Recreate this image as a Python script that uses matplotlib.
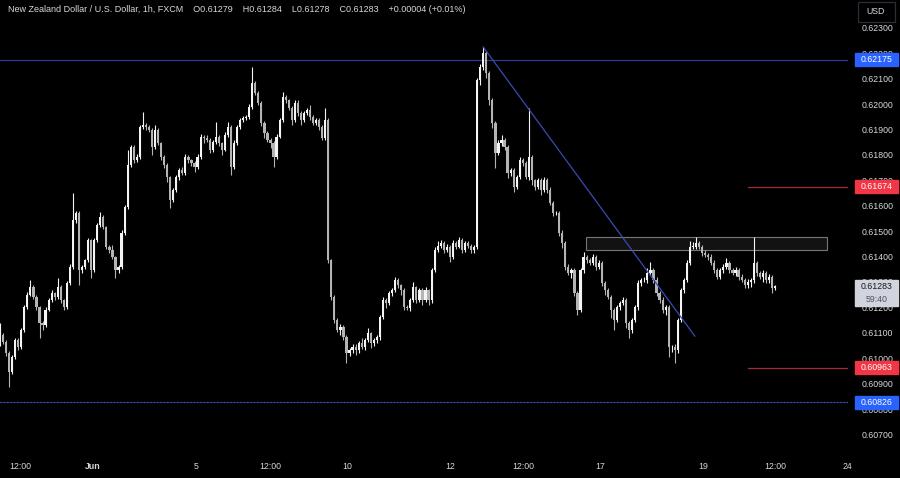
# NZD/USD 1h estilo TradingView (fondo negro, velas blancas/grises)

import matplotlib.pyplot as plt
import matplotlib.patches as patches
import numpy as np

plt.rcParams['font.family'] = ['Liberation Sans', 'DejaVu Sans']

# -----------------------------------------------------------------------------
# Datos: cierres por vela en unidades de 0.00001, y mechas por encima/debajo del cuerpo
# -----------------------------------------------------------------------------
first_open = 61060
close_pips = [
    # 30 may - 3 jun
    61091, 61064, 61020, 60945, 61004, 61071, 61044, 61111, 61201, 61249,
    61280, 61241, 61201, 61138, 61130, 61190, 61229, 61256, 61241, 61280,
    61229, 61201, 61296, 61359, 61544, 61571, 61347, 61359, 61386, 61465,
    61347, 61465, 61524, 61556, 61516, 61438, 61426, 61398, 61347, 61359,
    61493, 61595,
    # 4 jun - 7 jun
    61760, 61831, 61780, 61792, 61910, 61918, 61910, 61898, 61831, 61898,
    61847, 61792, 61760, 61713, 61623, 61662, 61713, 61741, 61729, 61792,
    61780, 61768, 61753, 61792, 61871, 61867, 61859, 61820, 61851, 61871,
    61847, 61820, 61879, 61910, 61753, 61847, 61910, 61938, 61945, 61949,
    61989, 62083, 62044, 62005, 61926, 61886, 61859, 61847, 61792, 61871,
    61938, 62028, 62016, 61985, 61938, 62005, 61965, 61938, 61965, 61977,
    61949, 61926, 61938, 61910, 61867, 61938,
    # 7 jun - 12 jun
    61386, 61241, 61150, 61111, 61123, 61083, 61020, 61032, 61044, 61032,
    61060, 61044, 61071, 61099, 61060, 61071, 61083, 61162, 61229, 61217,
    61256, 61268, 61308, 61288, 61268, 61201, 61197, 61229, 61280, 61229,
    61268, 61229, 61268, 61229, 61347, 61426, 61442, 61453, 61426, 61438,
    61398, 61453, 61438, 61465, 61426, 61453, 61442, 61426, 61438,
    # 12 jun - 14 jun
    62095, 62146, 62201, 62123, 62016, 61926, 61808, 61847, 61859, 61831,
    61729, 61741, 61674, 61713, 61780, 61768, 61713, 61792, 61701, 61674,
    61701, 61662, 61701, 61662, 61611, 61571, 61571, 61493, 61453, 61359,
    61335, 61347, 61256, 61190, 61347, 61398,
    # 17 jun - 21 jun
    61386, 61375, 61398, 61359, 61375, 61296, 61268, 61241, 61190, 61150,
    61201, 61217, 61229, 61138, 61111, 61150, 61201, 61296, 61308, 61308,
    61335, 61347, 61308, 61256, 61229, 61190, 61201, 61044, 61044, 61032,
    61150, 61268, 61308, 61375, 61438, 61438, 61453, 61438, 61414, 61406,
    61398, 61375, 61347, 61320, 61347, 61359, 61375, 61347, 61335, 61347,
    61320, 61308, 61288, 61300, 61308, 61375, 61335, 61320, 61335, 61308,
    61320, 61276, 61283,
]
wick_up = [
    47, 8, 6, 8, 10, 8, 10, 6, 8, 10, 28, 8, 6, 6, 8, 10, 8, 12, 6, 35,
    8, 6, 8, 10, 106, 8, 10, 8, 6, 10, 6, 8, 8, 20, 8, 6, 8, 20, 6, 8, 10, 8,
    60, 10, 8, 10, 8, 50, 8, 6, 8, 20, 8, 6, 8, 8, 6, 8, 10, 8, 10, 12,
    8, 6, 8, 10, 12, 8, 10, 6, 8, 60, 8, 6, 10, 20, 8, 10, 8, 6, 8, 10,
    12, 63, 10, 8, 6, 8, 10, 6, 8, 10, 8, 20, 8, 6, 8, 10, 12, 8, 10, 6,
    20, 8, 6, 8, 6, 47,
    8, 6, 8, 10, 12, 8, 10, 8, 12, 10, 8, 20, 8, 20, 6, 8, 10, 8, 10, 8,
    10, 8, 12, 8, 6, 8, 10, 8, 20, 6, 10, 8, 12, 6, 8, 10, 20, 12, 8, 10,
    6, 12, 8, 12, 8, 10, 8, 6, 8,
    8, 12, 24, 10, 8, 10, 8, 12, 20, 8, 10, 8, 6, 10, 12, 8, 10, 193, 8, 6,
    10, 8, 12, 8, 10, 8, 10, 8, 10, 8, 10, 8, 10, 8, 10, 20,
    8, 10, 12, 8, 10, 8, 6, 10, 8, 6, 10, 8, 12, 8, 10, 8, 10, 12, 8, 10,
    20, 30, 8, 10, 8, 10, 8, 10, 8, 10, 8, 10, 8, 10, 24, 20, 24, 10, 8, 10,
    8, 12, 10, 8, 10, 12, 20, 8, 10, 12, 8, 10, 8, 10, 8, 102, 8, 10, 12, 8,
    10, 8, 4,
]
wick_dn = [
    10, 10, 12, 59, 8, 6, 12, 8, 6, 8, 6, 8, 10, 59, 20, 6, 6, 8, 10, 6,
    10, 12, 6, 6, 8, 10, 59, 10, 8, 8, 30, 8, 6, 6, 8, 10, 12, 8, 30, 10, 6, 8,
    8, 8, 10, 8, 6, 6, 10, 8, 30, 6, 8, 10, 12, 20, 30, 10, 8, 12, 8, 6,
    10, 12, 20, 8, 6, 20, 8, 12, 10, 6, 10, 20, 6, 8, 30, 8, 6, 8, 10, 6,
    8, 8, 8, 10, 12, 20, 8, 20, 40, 8, 6, 8, 10, 8, 20, 8, 10, 20, 8, 8,
    10, 10, 8, 12, 10, 8,
    10, 12, 10, 8, 20, 12, 40, 12, 10, 20, 10, 8, 10, 8, 20, 10, 12, 10, 8, 20,
    8, 10, 6, 10, 20, 12, 8, 10, 8, 12, 8, 20, 8, 20, 10, 6, 8, 10, 12, 8,
    20, 8, 10, 6, 12, 8, 10, 12, 10,
    8, 20, 10, 20, 20, 20, 59, 8, 10, 10, 20, 10, 20, 8, 6, 10, 8, 10, 20, 10,
    8, 20, 8, 10, 8, 12, 8, 12, 20, 10, 8, 20, 12, 20, 8, 10,
    10, 8, 10, 12, 8, 12, 20, 8, 30, 40, 8, 10, 8, 20, 30, 10, 8, 10, 10, 8,
    10, 8, 10, 12, 10, 12, 20, 39, 20, 52, 12, 8, 10, 8, 10, 8, 10, 8, 12, 8,
    10, 8, 12, 10, 8, 10, 8, 12, 8, 10, 12, 8, 10, 12, 20, 10, 12, 8, 20, 10,
    12, 20, 8,
]

title = ('New Zealand Dollar / U.S. Dollar, 1h, FXCM    O0.61279    H0.61284    '
         'L0.61278    C0.61283    +0.00004 (+0.01%)')
tick_pos = [6.6, 30.6, 64.5, 88.8, 114.1, 148.0, 172.0, 197.4, 231.3, 255.0, 278.9]
tick_lbl = ['12:00', 'Jun', '5', '12:00', '10', '12', '12:00', '17', '19', '12:00', '24']
price_ticks = np.arange(0.607, 0.6235, 0.001)

blue_levels = [0.62175, 0.60826]
red_levels = [0.61674, 0.60963]
trend_end = (228.6, 0.61087)
zone = (192.8, 272.0, 0.61426, 0.61477)   # x0, x1, y0, y1
countdown = '59:40'

# -----------------------------------------------------------------------------
# Figura
# -----------------------------------------------------------------------------
bg = '#000000'
txt = '#d6d8de'
fig = plt.figure(figsize=(9, 4.78), dpi=100)
fig.patch.set_facecolor(bg)
ax = fig.add_axes([0, 23/478, 848/900, 455/478])
ax.set_facecolor(bg)
for s in ax.spines.values():
    s.set_visible(False)

c = np.array(close_pips) * 1e-5
o = np.concatenate([[first_open * 1e-5], c[:-1]])
hi = np.maximum(o, c) + np.array(wick_up) * 1e-5
lo = np.minimum(o, c) - np.array(wick_dn) * 1e-5
x = np.arange(len(c))
col = np.where(c >= o, '#f4f4f4', '#b4b4b4')

ax.vlines(x, lo, hi, colors=col, linewidth=0.8, zorder=3)
ax.bar(x, np.maximum(np.abs(c - o), 0.000018), bottom=np.minimum(o, c),
       width=0.72, color=col, linewidth=0, zorder=4)

# niveles horizontales
ax.axhline(blue_levels[0], color='#2b3a94', linewidth=0.9, zorder=2)
ax.axhline(blue_levels[1], color='#1d2766', linewidth=0.9, zorder=2)
ax.axhline(blue_levels[1], color='#4a5bc0', linewidth=0.8, linestyle=(0, (1, 2)), zorder=2)
for lvl in red_levels:
    ax.axhline(lvl, xmin=0.882, xmax=1, color='#a52a36', linewidth=0.9, zorder=2)

# linea de tendencia desde el maximo
i_max = int(np.argmax(hi))
ax.plot([i_max, trend_end[0]], [hi[i_max], trend_end[1]], color='#3a4bb0', linewidth=0.9, zorder=5)

# zona de resistencia
ax.add_patch(patches.Rectangle((zone[0], zone[2]), zone[1] - zone[0], zone[3] - zone[2],
                               facecolor='#161616', edgecolor='#8a8a8a', linewidth=0.8,
                               alpha=0.85, zorder=1))

ax.set_xlim(0, 279.0)
ax.set_ylim(0.60619, 0.62410)

# ejes
ax.yaxis.tick_right()
ax.set_yticks(price_ticks, [f'{v:.5f}' for v in price_ticks])
ax.set_xticks(tick_pos, tick_lbl)
ax.tick_params(axis='y', length=0, pad=10, labelsize=6.3, colors=txt)
ax.tick_params(axis='x', length=0, pad=5, labelsize=6.3, colors=txt)
ax.get_xticklabels()[1].set_fontweight('bold')


def price_tag(price, text, fc, tc, h=0.000256):
    tr = ax.get_yaxis_transform()
    ax.add_patch(patches.Rectangle((1.0083, price - h), 0.0507, 2 * h, transform=tr,
                                   facecolor=fc, edgecolor=fc, clip_on=False, zorder=10))
    ax.text(1.0336, price, text, transform=tr, ha='center', va='center',
            fontsize=6.3, color=tc, zorder=11, clip_on=False)


for lvl in blue_levels:
    price_tag(lvl, f'{lvl:.5f}', '#2962ff', 'white')
for lvl in red_levels:
    price_tag(lvl, f'{lvl:.5f}', '#f23645', 'white')

# precio actual + cuenta atras
tr = ax.get_yaxis_transform()
last = c[-1]
ax.add_patch(patches.Rectangle((1.0083, last - 0.00078), 0.0507, 0.00103, transform=tr,
                               facecolor='#d1d4dc', edgecolor='#d1d4dc', clip_on=False, zorder=10))
ax.text(1.0336, last, f'{last:.5f}', transform=tr, ha='center', va='center',
        fontsize=6.3, color='#131722', zorder=11, clip_on=False)
ax.text(1.0336, last - 0.00051, countdown, transform=tr, ha='center', va='center',
        fontsize=6.3, color='#50535e', zorder=11, clip_on=False)

# cabecera y caja USD
fig.text(8/900, 1 - 10/478, title, ha='left', va='center', fontsize=6.5, color=txt)
fig.add_artist(patches.Rectangle((858/900, 1 - 22/478), 37/900, 20/478, transform=fig.transFigure,
                                 facecolor=bg, edgecolor='#2a2e39', linewidth=0.9))
fig.text(876/900, 1 - 12/478, 'USD', ha='center', va='center', fontsize=6.3, color=txt)

fig.savefig('out.png', dpi=100, facecolor=bg)
